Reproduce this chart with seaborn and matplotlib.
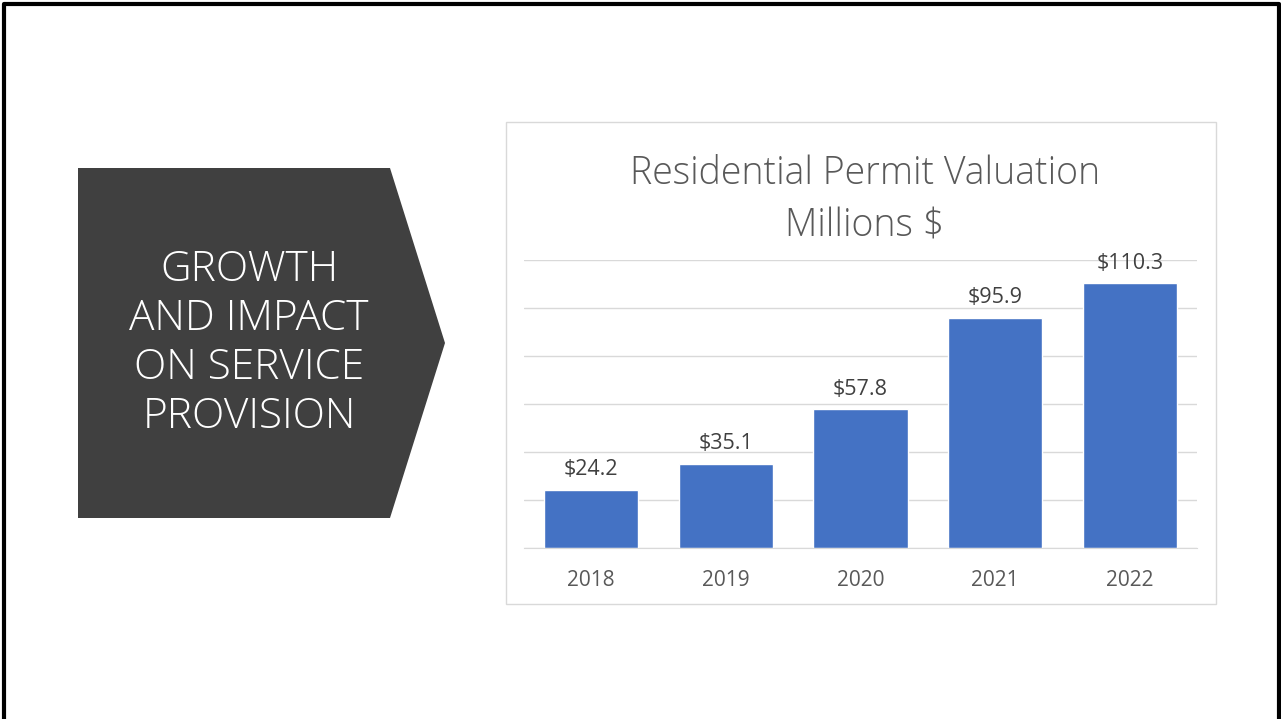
import matplotlib
matplotlib.use("Agg")
import matplotlib.pyplot as plt
from matplotlib.patches import Polygon, Rectangle
import seaborn as sns
import pandas as pd

years = ["2018", "2019", "2020", "2021", "2022"]
valuation = [24.2, 35.1, 57.8, 95.9, 110.3]
title = "Residential Permit Valuation\nMillions $"
side_text = "GROWTH\nAND IMPACT\nON SERVICE\nPROVISION"

df = pd.DataFrame({"year": years, "value": valuation})

sns.set_style("white")
plt.rcParams["font.family"] = ["Open Sans", "DejaVu Sans"]

W, H = 1281, 719
fig = plt.figure(figsize=(W / 100, H / 100), dpi=100)
fig.patch.set_facecolor("white")


def fx(px):
    return px / W


def fy(py):
    return 1 - py / H


# slide border (left, top, right)
fig.add_artist(plt.Line2D([fx(4), fx(4), fx(1279), fx(1279)],
                          [fy(719), fy(4), fy(4), fy(719)],
                          color="black", lw=3, transform=fig.transFigure))

# dark arrow shape
arrow = Polygon([(fx(78), fy(168)), (fx(390), fy(168)), (fx(445), fy(343)),
                 (fx(390), fy(518)), (fx(78), fy(518))],
                closed=True, facecolor="#404040", edgecolor="none",
                transform=fig.transFigure)
fig.add_artist(arrow)
fig.text(fx(249), fy(343), side_text, ha="center", va="center", color="white",
         fontsize=30.5, fontweight="light", linespacing=1.2)

# chart panel border
fig.add_artist(Rectangle((fx(506), fy(604)), fx(1216) - fx(506), fy(122) - fy(604),
                         facecolor="white", edgecolor="#D9D9D9", lw=1,
                         transform=fig.transFigure, zorder=-1))
fig.text(fx(865), fy(200), title, ha="center", va="center", color="#595959",
         fontsize=27, fontweight="light", linespacing=1.45)

ax = fig.add_axes([fx(524), fy(548), fx(1197) - fx(524), fy(260) - fy(548)])
ax.set_zorder(2)
ax.set_facecolor("none")
sns.barplot(data=df, x="year", y="value", color="#4472C4", width=0.7,
            saturation=1, ax=ax)
ax.set_xlim(-0.5, 4.5)
ax.set_ylim(0, 120)
ax.set_yticks(range(0, 121, 20))
ax.yaxis.grid(True, color="#D9D9D9", lw=1)
ax.set_axisbelow(True)
for s in ax.spines.values():
    s.set_visible(False)
ax.spines["bottom"].set_visible(True)
ax.spines["bottom"].set_color("#D9D9D9")
ax.tick_params(axis="y", left=False, labelleft=False)
ax.tick_params(axis="x", bottom=False, labelsize=15, labelcolor="#595959", pad=12)
ax.set_xlabel("")
ax.set_ylabel("")
ax.bar_label(ax.containers[0], labels=[f"${v:.1f}" for v in valuation],
             padding=7, fontsize=15.5, color="#404040")

fig.savefig("out.png", dpi=100)
